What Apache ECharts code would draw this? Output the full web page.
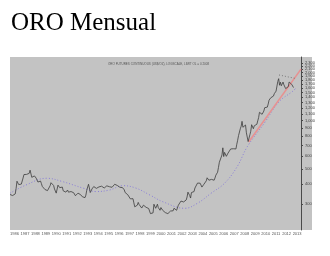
<!DOCTYPE html>
<html>
<head>
<meta charset="utf-8">
<script src="https://cdn.jsdelivr.net/npm/echarts@6/dist/echarts.min.js"></script>
<style>
html,body{margin:0;padding:0;background:#fff;}
#c{width:330px;height:256px;}
</style>
</head>
<body>
<div id="c"></div>
<script>
// ---- data ----
const chartTitle = 'ORO Mensual';
const innerTitle = 'ORO FUTURES CONTINUOUS (US$/OZ), LOGSCALE, LIMIT OL = 0 2008';
const startYear = 1986;
// monthly gold price (US$/oz), Jan 1986 .. Feb 2013
const goldMonthly = [
 345,339,346,340,342,343,348,376,418,423,398,391,
 408,401,409,438,460,450,451,461,460,465,468,490,
 477,442,444,452,451,451,437,431,413,406,420,419,
 404,388,390,385,371,367,375,365,362,367,392,409,
 410,417,393,374,369,352,362,395,389,381,381,378,
 384,364,363,358,357,367,368,357,349,359,360,361,
 354,354,345,339,337,341,352,343,345,344,335,334,
 329,330,330,342,367,372,400,379,355,364,374,383,
 387,382,384,377,381,385,385,380,391,389,384,379,
 379,377,382,391,385,387,386,383,383,383,386,387,
 400,410,396,393,392,385,383,387,383,381,378,369,
 355,346,352,344,344,341,324,324,323,325,306,289,
 289,297,296,308,299,292,293,284,289,296,294,291,
 287,287,286,282,277,262,256,257,265,300,293,283,
 284,300,286,280,275,286,282,275,274,270,266,272,
 266,262,263,260,272,270,268,273,283,283,276,275,
 282,296,294,302,314,321,314,310,319,317,319,333,
 357,359,340,328,355,356,351,360,379,379,389,407,
 414,405,406,404,384,392,398,401,405,420,439,442,
 424,423,434,429,422,431,424,438,456,469,476,510,
 549,555,557,610,676,596,633,632,598,585,627,629,
 631,665,655,679,667,655,665,665,712,754,806,803,
 889,922,990,909,888,889,939,839,829,740,760,816,
 858,943,924,890,928,946,934,949,996,1043,1127,1134,
 1118,1095,1113,1148,1205,1232,1193,1215,1271,1343,1370,1391,
 1356,1372,1424,1474,1510,1529,1572,1756,1830,1665,1739,1652,
 1656,1743,1675,1649,1586,1596,1594,1630,1744,1747,1722,1685,
 1671,1610
];
// long moving average
const maYears  = [1986.0,1987.5,1989.5,1991.05,1993.0,1994.25,1995.5,1996.8,1998.05,1999.35,2000.6,2002.7,2003.9,2005.2,2006.5,2007.7,2008.67,2010.3,2011.7,2012.95,2013.3];
const maValues = [351,395,436,415,378,360,368,392,378,343,311,283,304,351,406,515,687,966,1313,1516,1592];
// red trend line
const trendYears  = [2008.8, 2013.8];
const trendValues = [735, 2100];
// short dotted line from the 2011 top
const topLineYears  = [2011.7, 2013.2];
const topLineValues = [1930, 1840];
// axis labels
const yLabels = [300,400,500,600,700,800,900,1000,1100,1200,1300,1400,1500,1600,1700,1800,1900,2000,2100,2200,2300,2400];
const xMin = 1986, xMax = 2013.8;

// ---- build ----
const priceData = goldMonthly.map((v, i) => [startYear + i / 12, v]);
const maData = maYears.map((y, i) => [y, maValues[i]]);
const trendData = trendYears.map((y, i) => [y, trendValues[i]]);
const topData = topLineYears.map((y, i) => [y, topLineValues[i]]);

const chart = echarts.init(document.getElementById('c'), null, {renderer: 'canvas'});
chart.setOption({
  animation: false,
  backgroundColor: '#ffffff',
  title: [{
    text: chartTitle, left: 6, top: 6,
    textStyle: {fontFamily: 'Liberation Serif', fontSize: 25, fontWeight: 'normal', color: '#000'}
  }, {
    text: innerTitle, left: 103, top: 58,
    textStyle: {fontFamily: 'Liberation Sans', fontSize: 3, fontWeight: 'normal', color: '#555'}
  }],
  graphic: [{
    type: 'rect', z: -10, silent: true,
    shape: {x: 10, y: 57, width: 302, height: 173},
    style: {fill: '#c3c3c3'}
  }],
  grid: {left: 10, right: 29, top: 57, bottom: 26},
  xAxis: {
    type: 'value', min: xMin, max: xMax, interval: 1,
    axisLine: {show: false}, axisTick: {show: false}, splitLine: {show: false},
    axisLabel: {
      fontSize: 4, color: '#555', margin: 2, align: 'left',
      showMaxLabel: false,
      formatter: v => (Math.abs(v - Math.round(v)) < 1e-6 ? String(Math.round(v)) : '')
    }
  },
  yAxis: {
    type: 'log', position: 'right', min: 207, max: 2500,
    axisLine: {show: true, lineStyle: {color: '#4a4a4a', width: 1}},
    axisTick: {show: true, length: 2, lineStyle: {color: '#4a4a4a'}, customValues: yLabels},
    splitLine: {show: false},
    axisLabel: {fontSize: 4, color: '#444', margin: 4, customValues: yLabels}
  },
  series: [{
    type: 'line', data: maData, showSymbol: false, smooth: 0.4, z: 2,
    lineStyle: {color: '#8a7ed8', width: 1, type: [1, 2]}
  }, {
    type: 'line', data: trendData, showSymbol: false, z: 3,
    lineStyle: {color: '#e79191', width: 1.6}
  }, {
    type: 'line', data: topData, showSymbol: false, z: 3,
    lineStyle: {color: '#666', width: 0.8, type: [1, 2]}
  }, {
    type: 'line', data: priceData, showSymbol: false, z: 4,
    lineStyle: {color: '#3c3c3c', width: 0.8}
  }]
});
</script>
</body>
</html>
